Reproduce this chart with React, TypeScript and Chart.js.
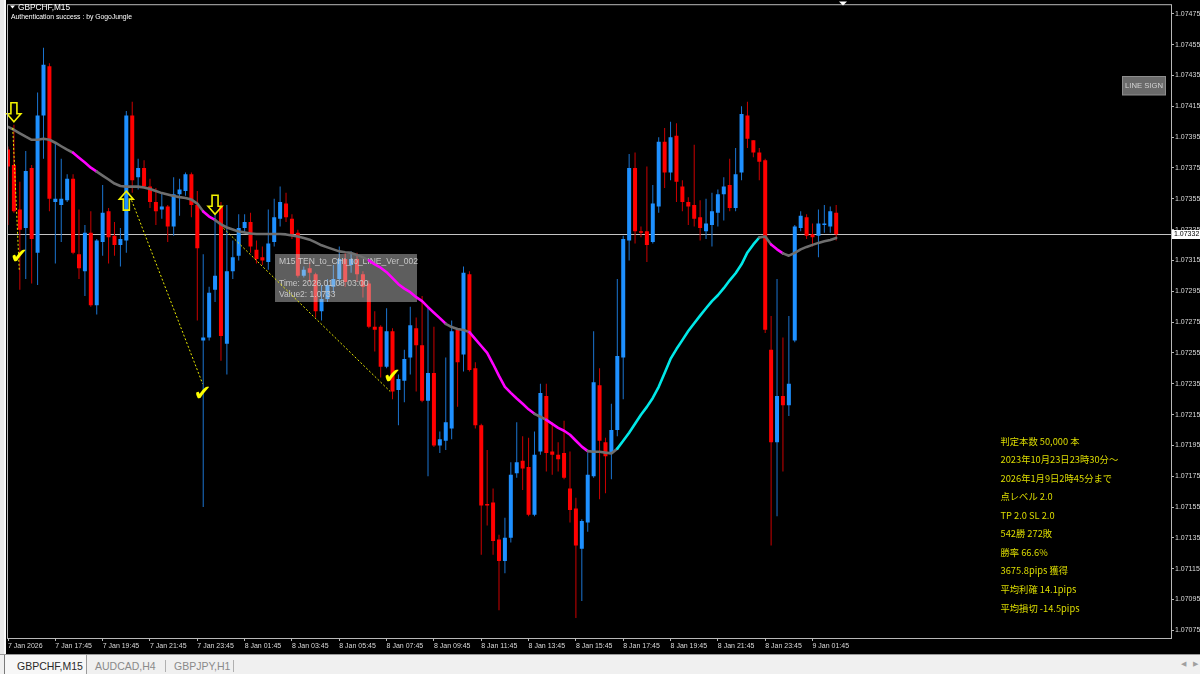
import React, { useEffect, useRef } from "react";
import { Chart, registerables } from "chart.js";

Chart.register(...registerables);

// ---------- DATA ----------
const symbolTitle = "GBPCHF,M15";
const authText = "Authentication success : by GogoJungle";

const timeTickIndex = [0, 8, 16, 24, 32, 40, 48, 56, 64, 72, 80, 88, 96, 104, 112, 120, 128, 136];
const timeTickLabels = [
  "7 Jan 2026", "7 Jan 17:45", "7 Jan 19:45", "7 Jan 21:45", "7 Jan 23:45", "8 Jan 01:45",
  "8 Jan 03:45", "8 Jan 05:45", "8 Jan 07:45", "8 Jan 09:45", "8 Jan 11:45", "8 Jan 13:45",
  "8 Jan 15:45", "8 Jan 17:45", "8 Jan 19:45", "8 Jan 21:45", "8 Jan 23:45", "9 Jan 01:45",
];

const priceTicks = [
  1.07075, 1.07095, 1.07115, 1.07135, 1.07155, 1.07175, 1.07195, 1.07215, 1.07235, 1.07255,
  1.07275, 1.07295, 1.07315, 1.07335, 1.07355, 1.07375, 1.07395, 1.07415, 1.07435, 1.07455, 1.07475,
];

const opens = [
  1.07387, 1.07377, 1.07348, 1.07336, 1.07375, 1.07320, 1.07409, 1.07441, 1.07353, 1.07351,
  1.07354, 1.07368, 1.07319, 1.07308, 1.07333, 1.07286, 1.07327, 1.07347, 1.07331, 1.07325,
  1.07328, 1.07409, 1.07369, 1.07375, 1.07363, 1.07353, 1.07348, 1.07350, 1.07337, 1.07358,
  1.07360, 1.07371, 1.07351, 1.07263, 1.07265, 1.07296, 1.07350, 1.07261, 1.07308, 1.07318,
  1.07336, 1.07340, 1.07322, 1.07317, 1.07314, 1.07327, 1.07342, 1.07352, 1.07342, 1.07333,
  1.07305, 1.07310, 1.07306, 1.07282, 1.07290, 1.07298, 1.07303, 1.07316, 1.07312, 1.07316,
  1.07306, 1.07300, 1.07272, 1.07272, 1.07246, 1.07269, 1.07231, 1.07237, 1.07252, 1.07271,
  1.07260, 1.07224, 1.07242, 1.07195, 1.07198, 1.07206, 1.07270, 1.07254, 1.07306, 1.07245,
  1.07208, 1.07157, 1.07158, 1.07134, 1.07120, 1.07135, 1.07177, 1.07185, 1.07181, 1.07150,
  1.07191, 1.07227, 1.07191, 1.07189, 1.07190, 1.07167, 1.07154, 1.07128, 1.07145, 1.07175,
  1.07234, 1.07197, 1.07190, 1.07205, 1.07252, 1.07328, 1.07375, 1.07334, 1.07334, 1.07327,
  1.07350, 1.07392, 1.07372, 1.07396, 1.07363, 1.07353, 1.07351, 1.07343, 1.07334, 1.07338,
  1.07346, 1.07358, 1.07364, 1.07349, 1.07372, 1.07409, 1.07393, 1.07385, 1.07380, 1.07257,
  1.07197, 1.07227, 1.07221, 1.07263, 1.07336, 1.07343, 1.07332, 1.07331, 1.07338, 1.07337,
  1.07346,
];

const highs = [
  1.07389, 1.07403, 1.07366, 1.07386, 1.07377, 1.07424, 1.07453, 1.07443, 1.07391, 1.07381,
  1.07371, 1.07371, 1.07348, 1.07338, 1.07347, 1.07329, 1.07364, 1.07349, 1.07340, 1.07336,
  1.07412, 1.07418, 1.07381, 1.07380, 1.07368, 1.07362, 1.07359, 1.07351, 1.07369, 1.07368,
  1.07372, 1.07372, 1.07360, 1.07319, 1.07298, 1.07346, 1.07353, 1.07351, 1.07328, 1.07345,
  1.07345, 1.07346, 1.07328, 1.07324, 1.07348, 1.07355, 1.07363, 1.07359, 1.07345, 1.07335,
  1.07311, 1.07314, 1.07307, 1.07299, 1.07303, 1.07312, 1.07324, 1.07320, 1.07321, 1.07320,
  1.07308, 1.07302, 1.07282, 1.07273, 1.07284, 1.07271, 1.07241, 1.07257, 1.07285, 1.07278,
  1.07292, 1.07285, 1.07272, 1.07204, 1.07252, 1.07276, 1.07271, 1.07311, 1.07308, 1.07249,
  1.07209, 1.07192, 1.07167, 1.07137, 1.07148, 1.07184, 1.07210, 1.07201, 1.07200, 1.07204,
  1.07235, 1.07235, 1.07210, 1.07197, 1.07211, 1.07191, 1.07161, 1.07147, 1.07190, 1.07269,
  1.07245, 1.07200, 1.07222, 1.07303, 1.07331, 1.07384, 1.07385, 1.07337, 1.07376, 1.07364,
  1.07395, 1.07401, 1.07405, 1.07404, 1.07367, 1.07356, 1.07390, 1.07354, 1.07355, 1.07359,
  1.07361, 1.07369, 1.07381, 1.07388, 1.07415, 1.07418, 1.07393, 1.07388, 1.07381, 1.07279,
  1.07303, 1.07265, 1.07279, 1.07338, 1.07347, 1.07345, 1.07339, 1.07348, 1.07351, 1.07350,
  1.07351,
];

const lows = [
  1.07338, 1.07346, 1.07296, 1.07303, 1.07300, 1.07299, 1.07381, 1.07347, 1.07313, 1.07327,
  1.07353, 1.07319, 1.07303, 1.07292, 1.07285, 1.07280, 1.07318, 1.07313, 1.07318, 1.07311,
  1.07320, 1.07359, 1.07361, 1.07362, 1.07349, 1.07338, 1.07342, 1.07327, 1.07331, 1.07344,
  1.07357, 1.07343, 1.07276, 1.07155, 1.07263, 1.07288, 1.07250, 1.07241, 1.07303, 1.07315,
  1.07333, 1.07320, 1.07313, 1.07312, 1.07309, 1.07324, 1.07337, 1.07340, 1.07329, 1.07304,
  1.07304, 1.07301, 1.07278, 1.07276, 1.07288, 1.07294, 1.07299, 1.07298, 1.07307, 1.07301,
  1.07291, 1.07271, 1.07256, 1.07239, 1.07245, 1.07225, 1.07208, 1.07223, 1.07241, 1.07230,
  1.07223, 1.07175, 1.07194, 1.07190, 1.07192, 1.07199, 1.07220, 1.07243, 1.07243, 1.07206,
  1.07124, 1.07143, 1.07124, 1.07088, 1.07112, 1.07132, 1.07174, 1.07166, 1.07149, 1.07149,
  1.07189, 1.07178, 1.07176, 1.07178, 1.07173, 1.07145, 1.07083, 1.07094, 1.07139, 1.07174,
  1.07160, 1.07164, 1.07173, 1.07201, 1.07225, 1.07315, 1.07326, 1.07330, 1.07314, 1.07326,
  1.07346, 1.07362, 1.07367, 1.07353, 1.07347, 1.07338, 1.07337, 1.07328, 1.07329, 1.07324,
  1.07337, 1.07341, 1.07347, 1.07347, 1.07367, 1.07388, 1.07382, 1.07367, 1.07268, 1.07130,
  1.07149, 1.07178, 1.07214, 1.07262, 1.07334, 1.07329, 1.07324, 1.07317, 1.07333, 1.07333,
  1.07328,
];

const closes = [
  1.07376, 1.07347, 1.07335, 1.07373, 1.07329, 1.07409, 1.07442, 1.07355, 1.07355, 1.07355,
  1.07368, 1.07320, 1.07310, 1.07333, 1.07286, 1.07328, 1.07346, 1.07330, 1.07325, 1.07329,
  1.07409, 1.07367, 1.07375, 1.07363, 1.07353, 1.07347, 1.07350, 1.07337, 1.07358, 1.07361,
  1.07371, 1.07351, 1.07323, 1.07265, 1.07294, 1.07305, 1.07266, 1.07308, 1.07317, 1.07336,
  1.07340, 1.07324, 1.07316, 1.07315, 1.07326, 1.07343, 1.07353, 1.07343, 1.07332, 1.07305,
  1.07309, 1.07307, 1.07282, 1.07290, 1.07299, 1.07303, 1.07316, 1.07301, 1.07316, 1.07306,
  1.07298, 1.07272, 1.07270, 1.07246, 1.07269, 1.07230, 1.07238, 1.07251, 1.07273, 1.07260,
  1.07224, 1.07242, 1.07195, 1.07199, 1.07210, 1.07269, 1.07249, 1.07307, 1.07244, 1.07208,
  1.07156, 1.07156, 1.07133, 1.07120, 1.07135, 1.07176, 1.07184, 1.07180, 1.07150, 1.07189,
  1.07229, 1.07190, 1.07189, 1.07186, 1.07174, 1.07153, 1.07130, 1.07146, 1.07176, 1.07236,
  1.07198, 1.07188, 1.07205, 1.07253, 1.07329, 1.07375, 1.07334, 1.07333, 1.07325, 1.07352,
  1.07392, 1.07372, 1.07395, 1.07366, 1.07353, 1.07350, 1.07342, 1.07336, 1.07339, 1.07347,
  1.07358, 1.07363, 1.07349, 1.07371, 1.07410, 1.07394, 1.07385, 1.07379, 1.07270, 1.07197,
  1.07227, 1.07221, 1.07235, 1.07337, 1.07344, 1.07331, 1.07330, 1.07339, 1.07339, 1.07347,
  1.07332,
];

const maValues = [
  1.074017, 1.073998, 1.073975, 1.073953, 1.073933, 1.073933, 1.073940, 1.073933, 1.073914, 1.073891,
  1.073869, 1.073849, 1.073817, 1.073785, 1.073752, 1.073726, 1.073701, 1.073675, 1.073649, 1.073633,
  1.073629, 1.073629, 1.073629, 1.073623, 1.073613, 1.073600, 1.073587, 1.073578, 1.073568, 1.073561,
  1.073555, 1.073545, 1.073519, 1.073468, 1.073435, 1.073413, 1.073384, 1.073364, 1.073351, 1.073338,
  1.073332, 1.073325, 1.073322, 1.073322, 1.073322, 1.073322, 1.073322, 1.073319, 1.073312, 1.073306,
  1.073296, 1.073285, 1.073267, 1.073248, 1.073235, 1.073222, 1.073209, 1.073203, 1.073199, 1.073186,
  1.073170, 1.073151, 1.073125, 1.073103, 1.073074, 1.073035, 1.072996, 1.072967, 1.072944, 1.072912,
  1.072886, 1.072847, 1.072811, 1.072776, 1.072739, 1.072718, 1.072705, 1.072699, 1.072685, 1.072640,
  1.072595, 1.072550, 1.072478, 1.072401, 1.072330, 1.072291, 1.072254, 1.072220, 1.072184, 1.072155,
  1.072136, 1.072116, 1.072090, 1.072064, 1.072045, 1.072019, 1.071980, 1.071942, 1.071913, 1.071909,
  1.071909, 1.071903, 1.071898, 1.071929, 1.071980, 1.072032, 1.072090, 1.072149, 1.072200, 1.072258,
  1.072330, 1.072420, 1.072511, 1.072575, 1.072633, 1.072692, 1.072743, 1.072792, 1.072840, 1.072886,
  1.072924, 1.072970, 1.073021, 1.073067, 1.073125, 1.073202, 1.073254, 1.073299, 1.073306, 1.073254,
  1.073222, 1.073196, 1.073181, 1.073199, 1.073222, 1.073238, 1.073251, 1.073264, 1.073274, 1.073283,
  1.073296,
];

// trend state of each line segment (0 = flat/grey, 1 = down/magenta, 2 = up/cyan)
const maTrend = [
  0, 0, 0, 0, 0, 0, 0, 0, 0, 0, 0,
  1, 1, 1, 1,
  0, 0, 0, 0, 0, 0, 0, 0, 0, 0, 0, 0, 0, 0, 0, 0, 0, 0,
  1, 1,
  0, 0, 0, 0, 0, 0, 0, 0, 0, 0, 0, 0, 0, 0, 0, 0, 0, 0, 0, 0, 0, 0, 0, 0, 0, 0,
  1, 1, 1, 1, 1, 1, 1, 1, 1, 1, 1, 1, 1,
  0, 0, 0, 0,
  1, 1, 1, 1, 1, 1, 1, 1, 1, 1, 1,
  0, 0,
  1, 1, 1, 1, 1, 1, 1,
  0, 0, 0, 0, 0,
  2, 2, 2, 2, 2, 2, 2, 2, 2, 2, 2, 2, 2, 2, 2, 2, 2, 2, 2, 2, 2, 2, 2, 2,
  0, 0,
  1, 1,
  0, 0, 0, 0, 0, 0, 0, 0, 0,
];

const bidPrice = 1.07332;

const arrowIndex = [1, 20, 35];
const arrowPrice = [1.07405, 1.0736, 1.07345];
const arrowDir = ["down", "up", "down"];

const checkIndex = [1.86, 32.9, 64.9];
const checkPrice = [1.07317, 1.07228, 1.07239];

const signalStartIndex = [0.8, 20.9, 36.4];
const signalStartPrice = [1.07401, 1.07354, 1.07336];
const signalEndIndex = [1.9, 32.9, 64.6];
const signalEndPrice = [1.07309, 1.07235, 1.0723];

const statsLines = [
  "判定本数 50,000 本",
  "2023年10月23日23時30分～",
  "2026年1月9日2時45分まで",
  "点レベル 2.0",
  "TP 2.0 SL 2.0",
  "542勝 272敗",
  "勝率 66.6%",
  "3675.8pips 獲得",
  "平均利確 14.1pips",
  "平均損切 -14.5pips",
];

const tooltipLines = ["M15 TEN_to_CHI_to_LINE_Ver_002", "Time: 2026.01.08 03:00", "Value2: 1.0733"];
const tabLabels = ["GBPCHF,M15", "AUDCAD,H4", "GBPJPY,H1"];

// ---------- STYLE ----------
const BULL = "#1e90ff";
const BEAR = "#ff0000";
const BULL_WICK = "#1b74d0";
const BEAR_WICK = "#cc0000";
const TREND_COLORS = ["#6e6e6e", "#ff00ff", "#00e8e8"];
const X_MIN = -0.17;
const X_MAX = 196.6;
const Y_MIN = 1.0707002;
const Y_MAX = 1.0748063;
const SANS = '"Liberation Sans", Arial, sans-serif';

export default function App() {
  const ref = useRef<HTMLCanvasElement>(null);

  useEffect(() => {
    const canvas = ref.current;
    if (!canvas) return;
    const idx = opens.map((_, i) => i);
    const bull = idx.map((i) => closes[i] >= opens[i]);

    const mtPlugin = {
      id: "mtPlugin",
      beforeDraw(chart: any) {
        const ctx = chart.ctx;
        ctx.save();
        ctx.fillStyle = "#000000";
        ctx.fillRect(0, 0, chart.width, chart.height);
        ctx.fillStyle = "#e8e8e8";
        ctx.fillRect(0, 0, 6, chart.height);
        ctx.fillStyle = "#f8f8f8";
        ctx.fillRect(4, 0, 2, chart.height);
        ctx.restore();
      },
      beforeDatasetsDraw(chart: any) {
        const ctx = chart.ctx;
        const a = chart.chartArea;
        const y = Math.round(chart.scales.y.getPixelForValue(bidPrice)) + 0.5;
        ctx.save();
        ctx.strokeStyle = "#c4c4c4";
        ctx.lineWidth = 1;
        ctx.beginPath();
        ctx.moveTo(a.left, y);
        ctx.lineTo(a.right, y);
        ctx.stroke();
        ctx.restore();
      },
      afterDatasetDraw(chart: any, args: any) {
        if (args.index !== 1) return;
        const ctx = chart.ctx;
        ctx.save();
        ctx.fillStyle = "rgba(215,215,215,0.44)";
        ctx.fillRect(275, 254, 142, 48);
        ctx.fillStyle = "#c8c8c8";
        ctx.font = `8.5px ${SANS}`;
        ctx.textBaseline = "middle";
        ctx.textAlign = "left";
        ctx.fillText(tooltipLines[0], 279, 262);
        ctx.fillText(tooltipLines[1], 279, 284);
        ctx.fillText(tooltipLines[2], 279, 295);
        ctx.restore();
      },
      afterDatasetsDraw(chart: any) {
        const ctx = chart.ctx;
        const xs = chart.scales.x;
        const ys = chart.scales.y;
        ctx.save();
        // signal arrows
        ctx.strokeStyle = "#f2f200";
        ctx.lineWidth = 1.6;
        arrowIndex.forEach((ai, k) => {
          const px = xs.getPixelForValue(ai);
          const py = ys.getPixelForValue(arrowPrice[k]);
          const s = arrowDir[k] === "down" ? -1 : 1;
          ctx.beginPath();
          ctx.moveTo(px, py);
          ctx.lineTo(px + 7, py + s * 8);
          ctx.lineTo(px + 3, py + s * 8);
          ctx.lineTo(px + 3, py + s * 19);
          ctx.lineTo(px - 3, py + s * 19);
          ctx.lineTo(px - 3, py + s * 8);
          ctx.lineTo(px - 7, py + s * 8);
          ctx.closePath();
          ctx.stroke();
        });
        // check marks
        ctx.fillStyle = "#ffff00";
        ctx.font = `bold 21px "DejaVu Sans"`;
        ctx.textAlign = "center";
        ctx.textBaseline = "middle";
        checkIndex.forEach((ci, k) => {
          ctx.fillText("✔", xs.getPixelForValue(ci), ys.getPixelForValue(checkPrice[k]));
        });
        ctx.restore();
      },
      afterDraw(chart: any) {
        const ctx = chart.ctx;
        const a = chart.chartArea;
        ctx.save();
        // frame
        ctx.strokeStyle = "#b8b8b8";
        ctx.lineWidth = 1;
        ctx.strokeRect(a.left + 0.5, a.top - 0.5, a.right - a.left, a.bottom - a.top + 1);
        // bottom separator
        ctx.fillStyle = "#9a9a9a";
        ctx.fillRect(0, chart.height - 1, chart.width, 1);
        // shift marker
        ctx.fillStyle = "#ffffff";
        ctx.beginPath();
        ctx.moveTo(839, 1.5);
        ctx.lineTo(847, 1.5);
        ctx.lineTo(843, 5.5);
        ctx.closePath();
        ctx.fill();
        // header
        ctx.beginPath();
        ctx.moveTo(10, 5.5);
        ctx.lineTo(15, 5.5);
        ctx.lineTo(12.5, 8.5);
        ctx.closePath();
        ctx.fill();
        ctx.textAlign = "left";
        ctx.textBaseline = "middle";
        ctx.font = `8.3px ${SANS}`;
        ctx.fillText(symbolTitle, 18, 7.5);
        ctx.font = `6.8px ${SANS}`;
        ctx.fillText(authText, 11, 17.5);
        // LINE SIGN button
        ctx.fillStyle = "#6a6a6a";
        ctx.fillRect(1122.5, 76.5, 43, 18.5);
        ctx.strokeStyle = "#8e8e8e";
        ctx.strokeRect(1122.5, 76.5, 43, 18.5);
        ctx.fillStyle = "#d4d4d4";
        ctx.font = `7.7px ${SANS}`;
        ctx.textAlign = "center";
        ctx.fillText("LINE SIGN", 1144, 86);
        // statistics text
        ctx.fillStyle = "#dcdc00";
        ctx.textAlign = "left";
        ctx.font = `9.3px "Noto Sans CJK JP"`;
        statsLines.forEach((t, k) => ctx.fillText(t, 1000.5, 441.3 + k * 18.52));
        // bid label
        const by = Math.round(chart.scales.y.getPixelForValue(bidPrice)) + 0.5;
        ctx.fillStyle = "#ffffff";
        ctx.fillRect(a.right + 1, by - 4.5, chart.width - a.right - 1, 9);
        ctx.fillStyle = "#000000";
        ctx.font = `7px ${SANS}`;
        ctx.fillText(bidPrice.toFixed(5), a.right + 3, by);
        ctx.restore();
      },
    };

    const datasets: any[] = [
      {
        type: "bar",
        data: idx.map((i) => ({ x: i, y: [lows[i], highs[i]] })),
        backgroundColor: idx.map((i) => (bull[i] ? BULL_WICK : BEAR_WICK)),
        barThickness: 1,
        grouped: false,
        inflateAmount: 0,
        borderWidth: 0,
        minBarLength: 1,
        order: 5,
      },
      {
        type: "bar",
        data: idx.map((i) => ({ x: i, y: [opens[i], closes[i]] })),
        backgroundColor: idx.map((i) => (bull[i] ? BULL : BEAR)),
        barThickness: 4,
        grouped: false,
        inflateAmount: 0,
        borderWidth: 0,
        minBarLength: 1,
        order: 4,
      },
      {
        type: "line",
        data: idx.map((i) => ({ x: i, y: maValues[i] })),
        borderColor: TREND_COLORS[0],
        borderWidth: 2.6,
        pointRadius: 0,
        tension: 0,
        borderJoinStyle: "round",
        borderCapStyle: "round",
        segment: { borderColor: (c: any) => TREND_COLORS[maTrend[c.p0DataIndex]] },
        order: 3,
      },
      ...signalStartIndex.map((si, k) => ({
        type: "line",
        data: [
          { x: si, y: signalStartPrice[k] },
          { x: signalEndIndex[k], y: signalEndPrice[k] },
        ],
        borderColor: "#e8e800",
        borderWidth: 1,
        borderDash: [2, 2],
        pointRadius: 0,
        order: 1,
      })),
    ];

    const tickFont = { size: 7, family: SANS };

    const chart = new Chart(canvas, {
      type: "bar",
      data: { datasets },
      options: {
        responsive: false,
        animation: false,
        devicePixelRatio: 1,
        events: [],
        layout: { padding: { left: 7, top: 2, right: 0, bottom: 0 } },
        plugins: { legend: { display: false }, tooltip: { enabled: false } },
        scales: {
          x: {
            type: "linear",
            position: "bottom",
            min: X_MIN,
            max: X_MAX,
            offset: false,
            afterFit: (s: any) => {
              s.height = 17;
            },
            afterBuildTicks: (s: any) => {
              s.ticks = timeTickIndex.map((v) => ({ value: v }));
            },
            grid: { drawOnChartArea: false, drawTicks: true, tickLength: 3, color: "#b8b8b8", offset: false },
            border: { display: false },
            ticks: {
              align: "start",
              maxRotation: 0,
              minRotation: 0,
              autoSkip: false,
              padding: 1,
              color: "#dadada",
              font: tickFont,
              callback: (v: any) => {
                const k = timeTickIndex.indexOf(Number(v));
                return k >= 0 ? timeTickLabels[k] : "";
              },
            },
          },
          y: {
            type: "linear",
            position: "right",
            min: Y_MIN,
            max: Y_MAX,
            afterFit: (s: any) => {
              s.width = 29;
            },
            afterBuildTicks: (s: any) => {
              s.ticks = priceTicks.map((v) => ({ value: v }));
            },
            grid: { drawOnChartArea: false, drawTicks: true, tickLength: 3, color: "#b8b8b8" },
            border: { display: false },
            ticks: {
              padding: 1,
              color: "#dadada",
              font: tickFont,
              callback: (v: any) => Number(v).toFixed(5),
            },
          },
        },
      } as any,
      plugins: [mtPlugin],
    } as any);

    return () => chart.destroy();
  }, []);

  const tabX = [17, 95, 174];
  return (
    <div
      style={{
        position: "fixed",
        left: 0,
        top: 0,
        width: 1200,
        height: 674,
        background: "#f0f0f0",
        overflow: "hidden",
      }}
    >
      <canvas ref={ref} width={1200} height={655} style={{ position: "absolute", left: 0, top: 0, width: 1200, height: 655 }} />
      <div
        style={{
          position: "absolute",
          left: 0,
          top: 655,
          width: 1200,
          height: 19,
          background: "#f0f0f0",
          fontFamily: SANS,
          fontSize: 10.5,
        }}
      >
        <div
          style={{
            position: "absolute",
            left: 4,
            top: 0,
            width: 83,
            height: 19,
            background: "#f7f7f7",
            borderLeft: "1px solid #7a7a7a",
            borderRight: "1px solid #9a9a9a",
            boxSizing: "border-box",
          }}
        />
        {tabLabels.map((t, k) => (
          <div
            key={t}
            style={{
              position: "absolute",
              left: tabX[k],
              top: 5,
              color: k === 0 ? "#2a2a2a" : "#8a8a8a",
              whiteSpace: "nowrap",
              lineHeight: "12px",
            }}
          >
            {t}
          </div>
        ))}
        <div style={{ position: "absolute", left: 165, top: 5, width: 1, height: 12, background: "#b0b0b0" }} />
        <div style={{ position: "absolute", left: 233, top: 5, width: 1, height: 12, background: "#b0b0b0" }} />
        <div style={{ position: "absolute", left: 1181, top: 5, color: "#a0a0a0", fontSize: 7 }}>◀</div>
        <div style={{ position: "absolute", left: 1193, top: 5, color: "#a0a0a0", fontSize: 7 }}>▶</div>
      </div>
    </div>
  );
}
